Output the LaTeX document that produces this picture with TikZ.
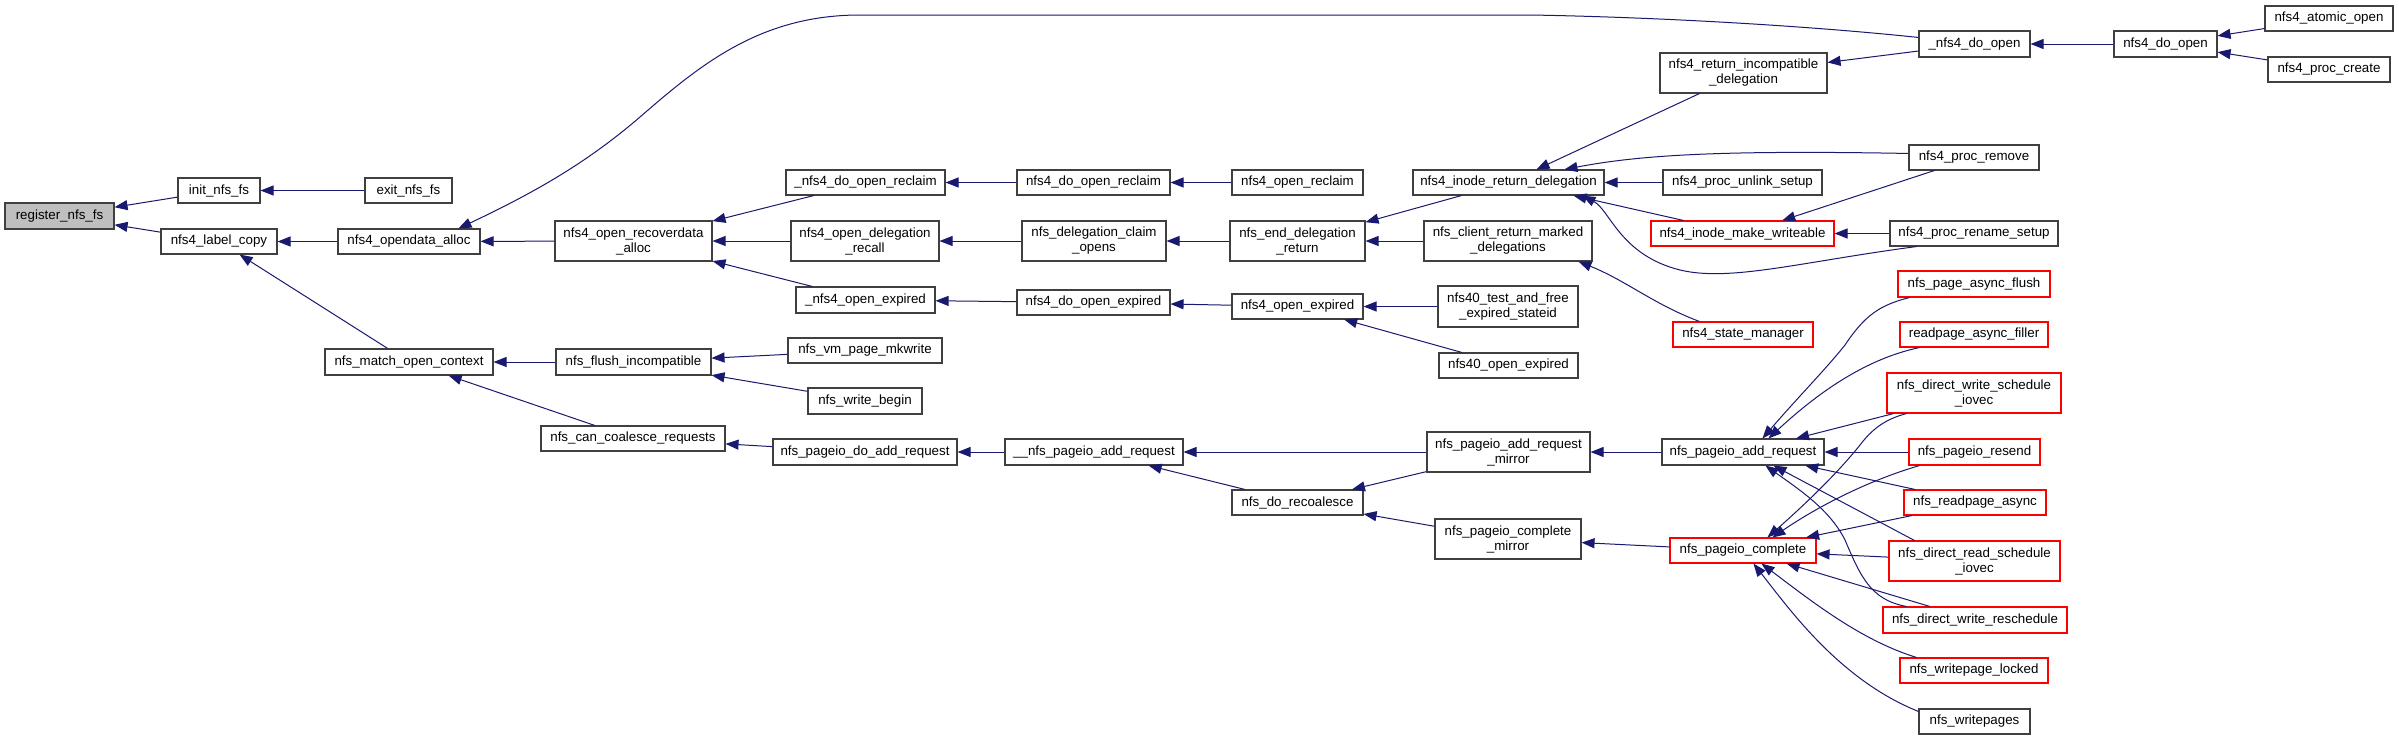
\documentclass[tikz,border=0pt]{standalone}
\usepackage{fontspec}
\setmainfont{Liberation Sans}
\usetikzlibrary{arrows.meta,calc}
\definecolor{edgeblue}{HTML}{191970}
\definecolor{nodeborder}{HTML}{404040}
\definecolor{hlfill}{HTML}{BFBFBF}
\tikzset{
  box/.style={draw=nodeborder,line width=1.1pt,fill=white,inner sep=0pt,align=center,
    font=\fontsize{13.33}{15}\selectfont},
  redbox/.style={draw=red},
  hlbox/.style={fill=hlfill},
  e/.style={draw=edgeblue,line width=1pt,{Triangle[length=13pt,width=10pt]}-}
}
\newcommand\nd[7][]{\node[box,#1,minimum width={#5-#3},minimum height={#6-#4}] (#2) at ({(#3+#5)/2},{(#4+#6)/2}) {#7};}
\begin{document}
\begin{tikzpicture}[x=1pt,y=-1pt]
\useasboundingbox[fill=white] (0,0) rectangle (2399,740);
% nodes
\nd[hlbox]{reg}{5}{203}{114}{229}{register\_nfs\_fs}
\nd{init}{178}{178}{260}{203}{init\_nfs\_fs}
\nd{exit}{365}{178}{452}{203}{exit\_nfs\_fs}
\nd{label}{161}{229}{277}{254}{nfs4\_label\_copy}
\nd{odalloc}{338}{229}{480}{254}{nfs4\_opendata\_alloc}
\nd{recov}{555}{221}{712}{261}{nfs4\_open\_recoverdata\\\_alloc}
\nd{match}{325}{349}{493}{375}{nfs\_match\_open\_context}
\nd{flush}{556}{349}{711}{375}{nfs\_flush\_incompatible}
\nd{coal}{541}{426}{725}{451}{nfs\_can\_coalesce\_requests}
\nd{dorecl}{786}{170}{945}{195}{\_nfs4\_do\_open\_reclaim}
\nd{delrec}{791}{221}{939}{261}{nfs4\_open\_delegation\\\_recall}
\nd{oexpu}{796}{287}{935}{313}{\_nfs4\_open\_expired}
\nd{mkwrite}{788}{338}{942}{363}{nfs\_vm\_page\_mkwrite}
\nd{wbegin}{808}{388}{922}{414}{nfs\_write\_begin}
\nd{pgdo}{773}{439}{957}{465}{nfs\_pageio\_do\_add\_request}
\nd{recl}{1017}{170}{1170}{195}{nfs4\_do\_open\_reclaim}
\nd{claim}{1022}{221}{1166}{261}{nfs\_delegation\_claim\\\_opens}
\nd{doexp}{1017}{290}{1170}{315}{nfs4\_do\_open\_expired}
\nd{pgaddin}{1005}{439}{1183}{465}{\_\_nfs\_pageio\_add\_request}
\nd{oreclaim}{1232}{170}{1363}{195}{nfs4\_open\_reclaim}
\nd{enddel}{1230}{221}{1365}{261}{nfs\_end\_delegation\\\_return}
\nd{oexp}{1232}{294}{1363}{319}{nfs4\_open\_expired}
\nd{recoal}{1232}{490}{1363}{515}{nfs\_do\_recoalesce}
\nd{ird}{1413}{170}{1604}{195}{nfs4\_inode\_return\_delegation}
\nd{crm}{1424}{221}{1592}{261}{nfs\_client\_return\_marked\\\_delegations}
\nd{nft}{1438}{286}{1578}{327}{nfs40\_test\_and\_free\\\_expired\_stateid}
\nd{nfo}{1439}{353}{1578}{378}{nfs40\_open\_expired}
\nd{addmir}{1427}{432}{1590}{472}{nfs\_pageio\_add\_request\\\_mirror}
\nd{cmpmir}{1435}{519}{1581}{559}{nfs\_pageio\_complete\\\_mirror}
\nd{ric}{1660}{53}{1827}{93}{nfs4\_return\_incompatible\\\_delegation}
\nd{unlink}{1663}{170}{1822}{195}{nfs4\_proc\_unlink\_setup}
\nd[redbox]{imw}{1651}{221}{1834}{246}{nfs4\_inode\_make\_writeable}
\nd[redbox]{sm}{1673}{322}{1813}{347}{nfs4\_state\_manager}
\nd{pgadd}{1662}{439}{1824}{465}{nfs\_pageio\_add\_request}
\nd[redbox]{pgc}{1670}{538}{1816}{563}{nfs\_pageio\_complete}
\nd{dopen}{1919}{31}{2030}{57}{\_nfs4\_do\_open}
\nd{premove}{1909}{145}{2039}{170}{nfs4\_proc\_remove}
\nd{rename}{1890}{221}{2058}{246}{nfs4\_proc\_rename\_setup}
\nd[redbox]{paf}{1898}{271}{2050}{297}{nfs\_page\_async\_flush}
\nd[redbox]{raf}{1900}{322}{2048}{347}{readpage\_async\_filler}
\nd[redbox]{dwsi}{1887}{373}{2061}{413}{nfs\_direct\_write\_schedule\\\_iovec}
\nd[redbox]{resend}{1909}{439}{2040}{465}{nfs\_pageio\_resend}
\nd[redbox]{rpa}{1904}{490}{2046}{515}{nfs\_readpage\_async}
\nd[redbox]{drsi}{1889}{541}{2060}{581}{nfs\_direct\_read\_schedule\\\_iovec}
\nd[redbox]{dwr}{1883}{607}{2067}{633}{nfs\_direct\_write\_reschedule}
\nd[redbox]{wpl}{1900}{658}{2048}{683}{nfs\_writepage\_locked}
\nd{wps}{1919}{709}{2030}{734}{nfs\_writepages}
\nd{ndo}{2114}{31}{2217}{57}{nfs4\_do\_open}
\nd{atomic}{2265}{6}{2393}{31}{nfs4\_atomic\_open}
\nd{create}{2268}{57}{2390}{82}{nfs4\_proc\_create}
% edges
\draw[e] (reg) -- (init);
\draw[e] (reg) -- (label);
\draw[e] (init) -- (exit);
\draw[e] (label) -- (odalloc);
\draw[e] (label) -- (match);
\draw[e] (odalloc) -- (recov);
\draw[e] ($(odalloc.north west)+(121,0)$) .. controls (540,190) and (590,160) .. (640,117)
   .. controls (700,65) and (760,15) .. (860,15) -- (1530,15)
   .. controls (1650,17) and (1800,25) .. ($(dopen.north west)+(0,7)$);
\draw[e] (match) -- (flush);
\draw[e] (match) -- (coal);
\draw[e] (flush) -- (mkwrite);
\draw[e] (flush) -- (wbegin);
\draw[e] (coal) -- (pgdo);
\draw[e] (pgdo) -- (pgaddin);
\draw[e] (recov) -- (dorecl);
\draw[e] (recov) -- (delrec);
\draw[e] (recov) -- (oexpu);
\draw[e] (dorecl) -- (recl);
\draw[e] (delrec) -- (claim);
\draw[e] (oexpu) -- (doexp);
\draw[e] (recl) -- (oreclaim);
\draw[e] (claim) -- (enddel);
\draw[e] (doexp) -- (oexp);
\draw[e] (enddel) -- (ird);
\draw[e] (enddel) -- (crm);
\draw[e] (oexp) -- (nft);
\draw[e] (oexp) -- (nfo);
\draw[e] (pgaddin) -- (addmir);
\draw[e] (pgaddin) -- (recoal);
\draw[e] (recoal) -- (addmir);
\draw[e] (recoal) -- (cmpmir);
\draw[e] (addmir) -- (pgadd);
\draw[e] (cmpmir) -- (pgc);
\draw[e] (ird) -- (ric);
\draw[e] (ird) -- (unlink);
\draw[e] ($(ird.south west)+(161,0)$) -- ($(imw.north west)+(33,0)$);
\draw[e] ($(ird.north west)+(152,0)$) .. controls (1640,155) and (1720,150) .. ($(premove.north west)+(0,9)$);
\draw[e] ($(ird.south west)+(170,0)$) .. controls (1610,210) and (1620,255) .. (1680,270)
   .. controls (1730,282) and (1800,262) .. ($(rename.south west)+(27,0)$);
\draw[e] ($(crm.south west)+(155,0)$) .. controls (1625,280) and (1655,305) .. ($(sm.north west)+(27,0)$);
\draw[e] (ric) -- (dopen);
\draw[e] (dopen) -- (ndo);
\draw[e] (ndo) -- (atomic);
\draw[e] (ndo) -- (create);
\draw[e] (imw) -- (premove);
\draw[e] (imw) -- (rename);
\draw[e] ($(pgadd.north west)+(101,0)$) .. controls (1800,395) and (1825,370) .. (1845,345)
   .. controls (1865,315) and (1880,305) .. ($(paf.south west)+(12,0)$);
\draw[e] ($(pgadd.north west)+(107,0)$) .. controls (1810,400) and (1860,360) .. ($(raf.south west)+(20,0)$);
\draw[e] (pgadd) -- (dwsi);
\draw[e] (pgadd) -- (resend);
\draw[e] (pgadd) -- (rpa);
\draw[e] ($(pgadd.south west)+(112,0)$) -- ($(drsi.north west)+(26,0)$);
\draw[e] ($(pgadd.south west)+(104,0)$) .. controls (1800,490) and (1830,510) .. (1845,540)
   .. controls (1860,575) and (1870,600) .. ($(dwr.north west)+(24,0)$);
\draw[e] ($(pgc.north west)+(98,0)$) .. controls (1810,500) and (1840,470) .. (1860,445)
   .. controls (1875,425) and (1890,418) .. ($(dwsi.south west)+(20,0)$);
\draw[e] ($(pgc.north west)+(103,0)$) .. controls (1820,505) and (1870,480) .. ($(resend.south west)+(11,0)$);
\draw[e] (pgc) -- (rpa);
\draw[e] (pgc) -- (drsi);
\draw[e] (pgc) -- (dwr);
\draw[e] ($(pgc.south west)+(92,0)$) .. controls (1810,600) and (1860,640) .. ($(wpl.north west)+(17,0)$);
\draw[e] ($(pgc.south west)+(84,0)$) .. controls (1790,610) and (1840,680) .. ($(wps.north west)+(0,3)$);
\end{tikzpicture}
\end{document}
